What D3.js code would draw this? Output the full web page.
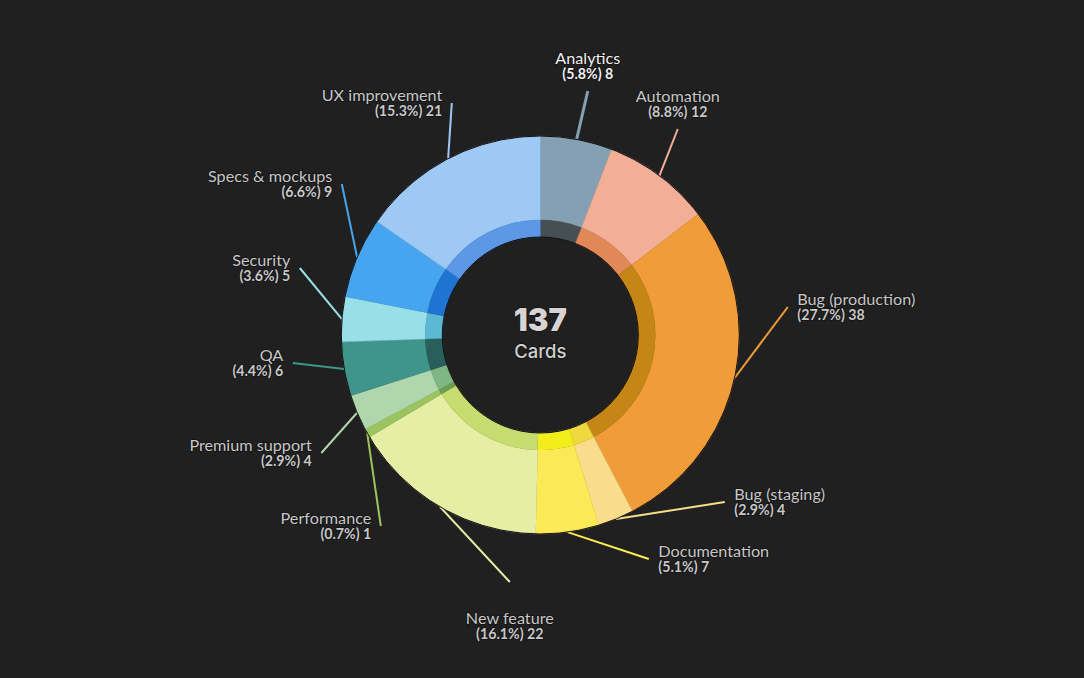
<!DOCTYPE html>
<html>
<head>
<meta charset="utf-8">
<script src="https://cdn.jsdelivr.net/npm/d3@7"></script>
<style>
  html, body { margin: 0; background: #202020; overflow: hidden; }
  text { font-family: Lato, "Open Sans", sans-serif; paint-order: stroke; stroke: #111; stroke-width: 1.5px; stroke-linejoin: round; }
</style>
</head>
<body>
<div id="chart"></div>
<script>
// Chart data, clockwise from 12 o'clock
const categories = ["Analytics", "Automation", "Bug (production)", "Bug (staging)", "Documentation", "New feature", "Performance", "Premium support", "QA", "Security", "Specs & mockups", "UX improvement"];
const cardCounts = [8, 12, 38, 4, 7, 22, 1, 4, 6, 5, 9, 21];
const outerColors = ["#84a0b2", "#f2ae96", "#f09c38", "#f9dd8c", "#fbea55", "#e6eea6", "#9cc45e", "#b0d6ae", "#40958a", "#98dfe8", "#46a5ee", "#9ec9f5"];
const innerColors = ["#465054", "#e08858", "#c58618", "#f0d840", "#f2ee1c", "#c7dc6e", "#6d9d50", "#7fb684", "#2a5e5a", "#5bb8d4", "#1e74d0", "#5c98e6"];

// Where each leader line ends, relative to the donut centre, and its label side
const leaderEnds = [[47.5, -244], [137.5, -206], [247.5, -28], [184.5, 167], [108.5, 224], [-30.5, 247], [-159.5, 191], [-219, 118], [-247.5, 28], [-240.5, -67], [-198.5, -151], [-88.5, -232]];
const labelSides = ["top", "top", "right", "right", "right", "bottom", "left", "left", "left", "left", "left", "left"];

// Constants for SVG dimensions
const width = 1084;
const height = 678;
const center = { x: 540.3, y: 335 };
const outerRadius = 199;
const midRadius = 115;
const innerRadius = 98;
const highlighted = "Analytics";

const svg = d3
  .select("#chart")
  .append("svg")
  .attr("width", width)
  .attr("height", height)
  .style("display", "block");

const chartGroup = svg
  .append("g")
  .attr("transform", `translate(${center.x}, ${center.y})`);

const total = d3.sum(cardCounts);
const pie = d3.pie().sort(null);
const slices = pie(cardCounts);

const outerArc = d3.arc().innerRadius(midRadius).outerRadius(outerRadius);
const innerArc = d3.arc().innerRadius(innerRadius).outerRadius(midRadius);
const edgeArc = d3.arc().innerRadius(outerRadius).outerRadius(outerRadius);

// Leader lines go under the slices
chartGroup
  .selectAll(".leader")
  .data(slices)
  .enter()
  .append("line")
  .attr("class", "leader")
  .attr("x1", (d) => edgeArc.centroid(d)[0])
  .attr("y1", (d) => edgeArc.centroid(d)[1])
  .attr("x2", (d, i) => leaderEnds[i][0])
  .attr("y2", (d, i) => leaderEnds[i][1])
  .attr("stroke", (d, i) => outerColors[i])
  .attr("stroke-width", (d, i) => (categories[i] === highlighted ? 3 : 2));

// Outer ring
chartGroup
  .selectAll(".outer")
  .data(slices)
  .enter()
  .append("path")
  .attr("class", "outer")
  .attr("d", outerArc)
  .attr("fill", (d, i) => outerColors[i])
  .attr("stroke", (d, i) => outerColors[i])
  .attr("stroke-width", 0.4);

// Inner ring
chartGroup
  .selectAll(".inner")
  .data(slices)
  .enter()
  .append("path")
  .attr("class", "inner")
  .attr("d", innerArc)
  .attr("fill", (d, i) => innerColors[i])
  .attr("stroke", (d, i) => innerColors[i])
  .attr("stroke-width", 0.4);

// Thin dark edge around the donut
chartGroup
  .selectAll(".edge")
  .data([outerRadius, innerRadius])
  .enter()
  .append("circle")
  .attr("class", "edge")
  .attr("r", (d) => d)
  .attr("fill", "none")
  .attr("stroke", "#101010")
  .attr("stroke-width", 1);

// Labels
const anchors = { top: "middle", bottom: "middle", left: "end", right: "start" };
const labelX = { top: 0, bottom: 0, left: -9.5, right: 9.5 };
const nameY = { top: -27, bottom: 42, left: -2, right: -2 };
const valueY = { top: -12, bottom: 57, left: 13, right: 13 };

const labels = chartGroup
  .selectAll(".label")
  .data(slices)
  .enter()
  .append("g")
  .attr("class", "label")
  .attr("transform", (d, i) => `translate(${leaderEnds[i][0] + labelX[labelSides[i]]}, ${leaderEnds[i][1]})`)
  .attr("text-anchor", (d, i) => anchors[labelSides[i]])
  .attr("fill", (d, i) => (categories[i] === highlighted ? "#f2f2f2" : "#c8c8c8"));

labels
  .append("text")
  .attr("y", (d, i) => nameY[labelSides[i]])
  .attr("font-size", 16.2)
  .text((d, i) => categories[i]);

labels
  .append("text")
  .attr("y", (d, i) => valueY[labelSides[i]])
  .attr("font-size", 14.2)
  .attr("font-weight", 700)
  .text((d, i) => `(${d3.format(".1f")((cardCounts[i] / total) * 100)}%) ${cardCounts[i]}`);

// Centre total
chartGroup
  .append("text")
  .attr("text-anchor", "middle")
  .attr("y", -4)
  .attr("font-size", 31)
  .attr("font-weight", 900)
  .attr("fill", "#d8d4d4")
  .style("font-family", "Inter, sans-serif")
  .text(total);

chartGroup
  .append("text")
  .attr("text-anchor", "middle")
  .attr("y", 23)
  .attr("font-size", 18.5)
  .attr("font-weight", 500)
  .attr("fill", "#d0d0d0")
  .style("font-family", "Inter, sans-serif")
  .text("Cards");
</script>
</body>
</html>
